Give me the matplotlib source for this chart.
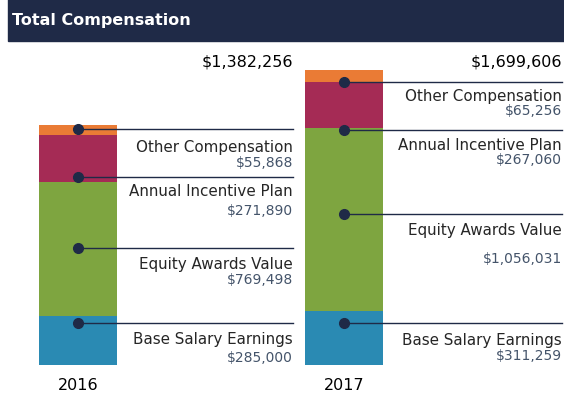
import matplotlib.pyplot as plt
from matplotlib.patches import Rectangle

# ──────────────────────────────────────────────
# Data
# ──────────────────────────────────────────────
years = ["2016", "2017"]
components = ["Base Salary Earnings", "Equity Awards Value",
              "Annual Incentive Plan", "Other Compensation"]
base_salary = [285000, 311259]
equity_awards = [769498, 1056031]
incentive_plan = [271890, 267060]
other_comp = [55868, 65256]
# where each leader line hits the bar (dollar height)
leader_2016 = [242300, 675100, 1084800, 1361700]
leader_2017 = [242300, 871300, 1356000, 1632900]

COLORS = ["#2A8AB3", "#7EA540", "#A52B55", "#EA7B35"]
NAVY = "#1F2A47"
VALUE_COLOR = "#44546A"
TEXT_COLOR = "#262626"

# pixel offsets below the leader line: (name, value)
OFFSETS = [
    [(15, 34), (16, 31), (14, 33), (17, 33)],
    [(16, 32), (16, 44), (15, 29), (13, 28)],
]

W, H, DPI = 564, 402, 100
fig = plt.figure(figsize=(W / DPI, H / DPI), dpi=DPI)

# title bar
fig.patches.append(Rectangle((8 / W, 1 - 42 / H), 1 - 8 / W, 42 / H,
                             transform=fig.transFigure, color=NAVY, zorder=0))
fig.text(12 / W, 1 - 21 / H, "Total Compensation", color="white",
         fontsize=11.5, fontweight="bold", va="center", ha="left")

# axes: y=0 at pixel 366, ~5770 dollars per pixel, bar spacing 266 px
px_per_unit = 266
dollars_per_px = 5770
ax = fig.add_axes([0, (H - 366) / H, 1, 326 / H])
ax.set_xlim(-78 / px_per_unit, (W - 78) / px_per_unit)
ax.set_ylim(0, 326 * dollars_per_px)
ax.axis("off")

series = [base_salary, equity_awards, incentive_plan, other_comp]
x = [0, 1]
bottom = [0, 0]
for vals, c in zip(series, COLORS):
    ax.bar(x, vals, bottom=bottom, width=78 / px_per_unit, color=c, zorder=1)
    bottom = [b + v for b, v in zip(bottom, vals)]

line_end = [215 / px_per_unit, 1 + 218 / px_per_unit]
leaders = [leader_2016, leader_2017]
for i in range(len(years)):
    xe = line_end[i]
    for j, name in enumerate(components):
        y = leaders[i][j]
        ax.plot([x[i], xe], [y, y], color=NAVY, lw=1.0, zorder=2)
        ax.plot(x[i], y, "o", color=NAVY, ms=7, zorder=3)
        dn, dv = OFFSETS[i][j]
        ax.text(xe, y - dn * dollars_per_px, name, ha="right", va="center",
                fontsize=10.9, color=TEXT_COLOR)
        ax.text(xe, y - dv * dollars_per_px, f"${series[j][i]:,}", ha="right",
                va="center", fontsize=10, color=VALUE_COLOR)
    # total above
    ax.text(xe, (366 - 62) * dollars_per_px, f"${bottom[i]:,}", ha="right",
            va="center", fontsize=11.5, color="black")
    ax.text(x[i], -20 * dollars_per_px, years[i], ha="center", va="center",
            fontsize=11.5, color="black", clip_on=False)

fig.savefig("out.png", dpi=DPI)
